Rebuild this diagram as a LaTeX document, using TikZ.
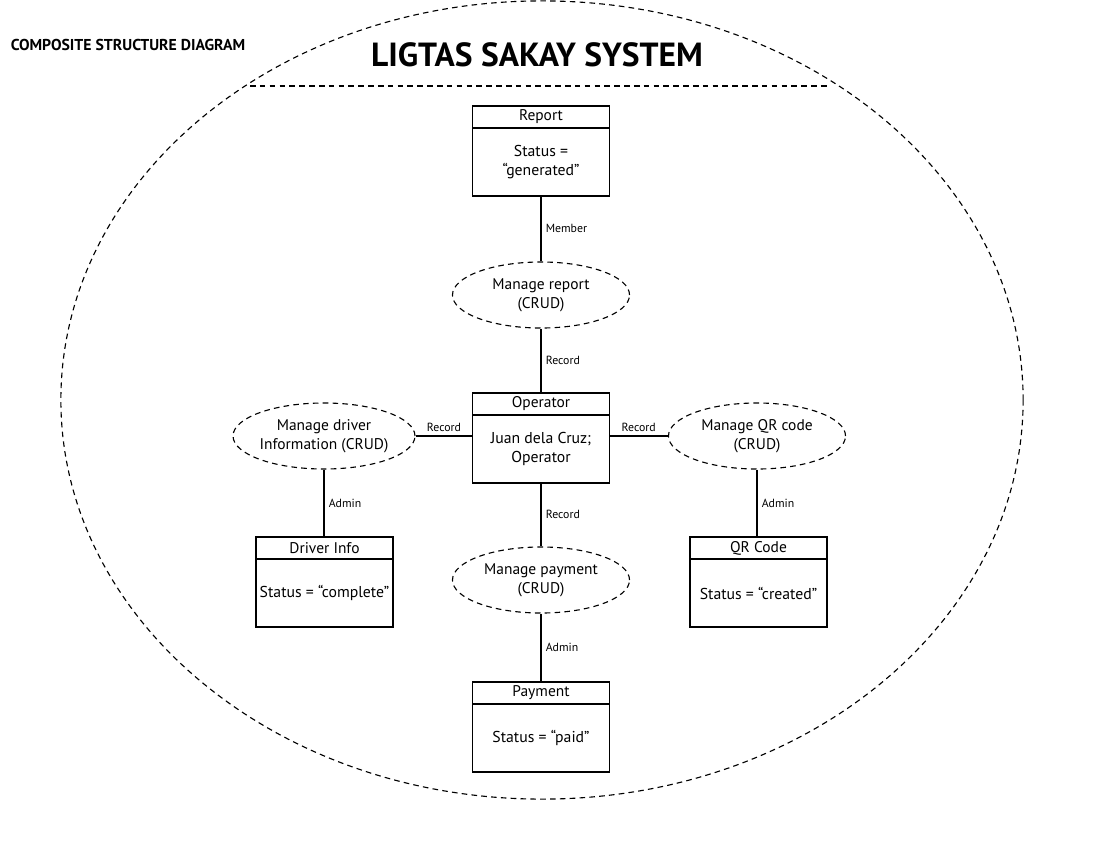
\documentclass[tikz,border=0pt]{standalone}
\usepackage{fontspec}
\setmainfont{PT Sans}
\usetikzlibrary{shapes.geometric, positioning}
\tikzset{
  line/.style={draw=black, line width=0.8pt},
  dashline/.style={draw=black, line width=0.8pt, dash pattern=on 4pt off 3pt},
  hdr/.style={draw=black, line width=0.9pt, rectangle, outer sep=0pt, inner sep=0pt, minimum width=3.425cm, minimum height=0.55cm, font=\fontsize{11}{13}\selectfont},
  body/.style={draw=black, line width=0.9pt, rectangle, outer sep=0pt, inner sep=0pt, minimum width=3.425cm, minimum height=1.7cm, align=center, font=\fontsize{11.2}{13}\selectfont},
  usecase/.style={draw=black, line width=0.8pt, dash pattern=on 4pt off 3pt, ellipse, inner sep=0pt, minimum width=4.425cm, minimum height=1.65cm, align=center, font=\fontsize{11}{13.5}\selectfont},
  lbl/.style={font=\fontsize{8.4}{10}\selectfont, inner sep=3pt}
}

\begin{document}
\begin{tikzpicture}[x=0.025cm, y=-0.025cm]
  \useasboundingbox (0,0) rectangle (1094,850);

  % system boundary
  \draw [dashline] (542,400) ellipse [x radius=12.025cm, y radius=9.975cm];
  \draw [dashline] (250,86) -- (828,86);
  \node [font=\fontsize{11.2}{13}\selectfont\bfseries] (kind) at (128,45) {COMPOSITE STRUCTURE DIAGRAM};
  \node [font=\fontsize{23.8}{28}\selectfont\bfseries] (title) at (537,55) {LIGTAS SAKAY SYSTEM};

  % parts
  \node [hdr] (rep) at (541,117) {Report};
  \node [body, below=0pt of rep] (repb) {Status =\\“generated”};
  \node [hdr] (op) at (541,404) {Operator};
  \node [body, below=0pt of op] (opb) {Juan dela Cruz;\\Operator};
  \node [hdr] (drv) at (324.5,548) {Driver Info};
  \node [body, below=0pt of drv] (drvb) {Status = “complete”};
  \node [hdr] (qr) at (758.5,548) {QR Code};
  \node [body, below=0pt of qr] (qrb) {Status = “created”};
  \node [hdr] (pay) at (541,693) {Payment};
  \node [body, below=0pt of pay] (payb) {Status = “paid”};

  % collaborations
  \node [usecase] (mrep) at (541,295) {Manage report\\(CRUD)};
  \node [usecase] (mdrv) at (324,436) {Manage driver\\Information (CRUD)};
  \node [usecase] (mqr) at (757,436) {Manage QR code\\(CRUD)};
  \node [usecase] (mpay) at (541,580) {Manage payment\\(CRUD)};

  % connectors
  \draw [line] (repb.south) -- (mrep.north) node [midway, right, lbl] {Member};
  \draw [line] (mrep.south) -- (op.north) node [midway, right, lbl] {Record};
  \draw [line] (mdrv.east) -- (mdrv.east -| opb.west) node [midway, above, lbl] {Record};
  \draw [line] (mqr.west -| opb.east) -- (mqr.west) node [midway, above, lbl] {Record};
  \draw [line] (opb.south) -- (mpay.north) node [midway, right, lbl] {Record};
  \draw [line] (mdrv.south) -- (mdrv.south |- drv.north) node [midway, right, lbl] {Admin};
  \draw [line] (mqr.south) -- (mqr.south |- qr.north) node [midway, right, lbl] {Admin};
  \draw [line] (mpay.south) -- (pay.north) node [midway, right, lbl] {Admin};
\end{tikzpicture}
\end{document}
